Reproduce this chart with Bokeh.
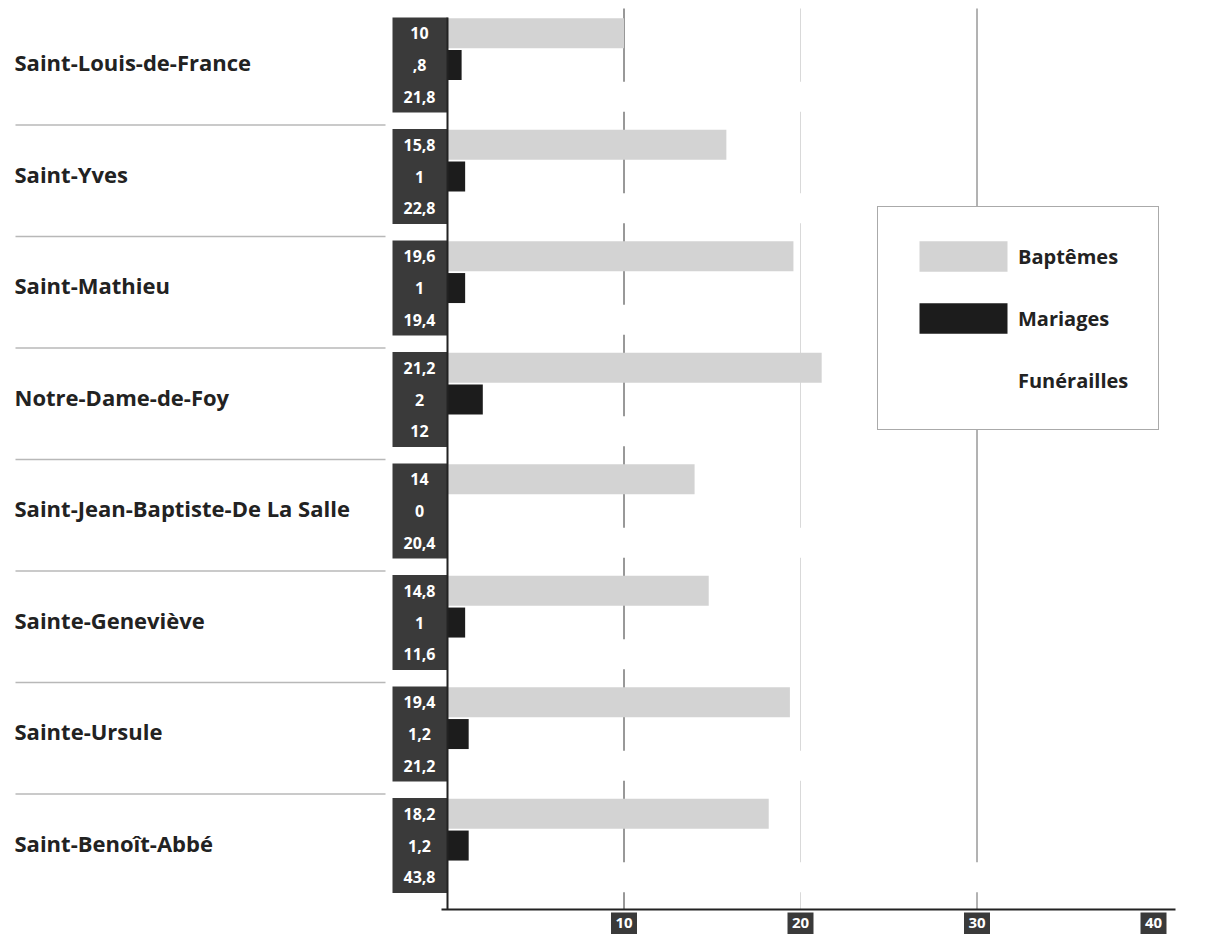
from bokeh.plotting import figure
from bokeh.models import Range1d, ColumnDataSource, Legend, LegendItem
from bokeh.core.properties import value
from bokeh.embed import file_html
from bokeh.resources import INLINE

# ---------------- data ----------------
categories = ["Saint-Louis-de-France", "Saint-Yves", "Saint-Mathieu", "Notre-Dame-de-Foy",
              "Saint-Jean-Baptiste-De La Salle", "Sainte-Geneviève", "Sainte-Ursule",
              "Saint-Benoît-Abbé"]
baptemes = [10, 15.8, 19.6, 21.2, 14, 14.8, 19.4, 18.2]
mariages = [0.8, 1, 1, 2, 0, 1, 1.2, 1.2]
funerailles = [21.8, 22.8, 19.4, 12, 20.4, 11.6, 21.2, 43.8]
series_names = ["Baptêmes", "Mariages", "Funérailles"]
x_ticks = [10, 20, 30, 40]

# ---------------- layout constants ----------------
W, H = 1209, 934
X0 = 447.0          # pixel of value 0
PPU = 17.65         # pixels per unit
GROUP_TOP0 = 17.0
GROUP_PITCH = 111.5
ROW_H = 31.7
BAR_H = 30
AXIS_Y = 909
FONT = value("Open Sans")

DARK_BOX = "#3a3a3a"
C_BAPT = "#d3d3d3"
C_MAR = "#1c1c1c"
C_FUN = "#ffffff"


def px(xpix):
    return (xpix - X0) / PPU


def fmt(v):
    if v == 0:
        return "0"
    if float(v).is_integer():
        return str(int(v))
    s = ("%g" % v).replace(".", ",")
    if s.startswith("0,"):
        s = s[1:]
    return s


n = len(categories)
tops = [GROUP_TOP0 + i * GROUP_PITCH for i in range(n)]
row_y = [[t + ROW_H / 2 + k * ROW_H for t in tops] for k in range(3)]
centers = [t + 1.5 * ROW_H - 3 for t in tops]

p = figure(width=W, height=H, x_range=Range1d(px(0), px(W)), y_range=Range1d(H, 0),
           output_backend="svg", toolbar_location=None, min_border=0,
           x_axis_location=None, y_axis_location=None, outline_line_color=None)
p.grid.visible = False
p.background_fill_color = "white"

# grid lines (drawn behind bars)
grid_colors = ["#333333", "#d9d9d9", "#666666", None]
for t, c in zip(x_ticks, grid_colors):
    if c is None:
        continue
    p.segment(x0=[t], x1=[t], y0=[8], y1=[AXIS_Y], line_color=c, line_width=1)

# bars
vals = [baptemes, mariages, funerailles]
cols = [C_BAPT, C_MAR, C_FUN]
renderers = []
for k in range(3):
    src = ColumnDataSource(dict(y=row_y[k], right=vals[k], left=[0] * n))
    r = p.hbar(y="y", left="left", right="right", height=BAR_H, source=src,
               fill_color=cols[k], line_color=None)
    renderers.append(r)

# value label boxes
p.quad(left=[px(392)] * n, right=[0] * n, top=tops, bottom=[t + 3 * ROW_H for t in tops],
       fill_color=DARK_BOX, line_color=None)
for k in range(3):
    p.text(x=[px(419)] * n, y=row_y[k], text=[fmt(v) for v in vals[k]],
           text_font=FONT, text_font_style="bold", text_font_size="16px",
           text_color="white", text_align="center", text_baseline="middle")

# axes lines
p.segment(x0=[0], x1=[0], y0=[GROUP_TOP0], y1=[AXIS_Y], line_color="#222222", line_width=2)
p.segment(x0=[px(441)], x1=[px(1175)], y0=[AXIS_Y], y1=[AXIS_Y], line_color="#222222", line_width=2)

# tick label boxes
p.quad(left=[t - 13 / PPU for t in x_ticks], right=[t + 13 / PPU for t in x_ticks],
       top=[AXIS_Y + 3] * len(x_ticks), bottom=[H] * len(x_ticks),
       fill_color=DARK_BOX, line_color=None)
p.text(x=x_ticks, y=[AXIS_Y + 13] * len(x_ticks), text=[str(t) for t in x_ticks],
       text_font=FONT, text_font_style="bold", text_font_size="15px",
       text_color="white", text_align="center", text_baseline="middle")

# category labels and separators
p.text(x=[px(14)] * n, y=centers, text=categories, text_font=FONT, text_font_style="bold",
       text_font_size="22px", text_color="#222222", text_align="left", text_baseline="middle")
p.segment(x0=[px(15)] * (n - 1), x1=[px(385)] * (n - 1), y0=[t - 4 for t in tops[1:]],
          y1=[t - 4 for t in tops[1:]], line_color="#b8b8b8", line_width=1.5)

# legend
legend = Legend(items=[LegendItem(label=s, renderers=[r]) for s, r in zip(series_names, renderers)],
                location=(877, H - 430), padding=30, spacing=24, glyph_width=110, glyph_height=38,
                label_height=38, label_standoff=0, margin=0,
                border_line_color="#555555", border_line_width=1,
                background_fill_color="white", background_fill_alpha=1,
                label_text_font="Open Sans", label_text_font_style="bold",
                label_text_font_size="20px", label_text_color="#222222")
p.add_layout(legend)

open("out.html", "w").write(file_html(p, INLINE))
